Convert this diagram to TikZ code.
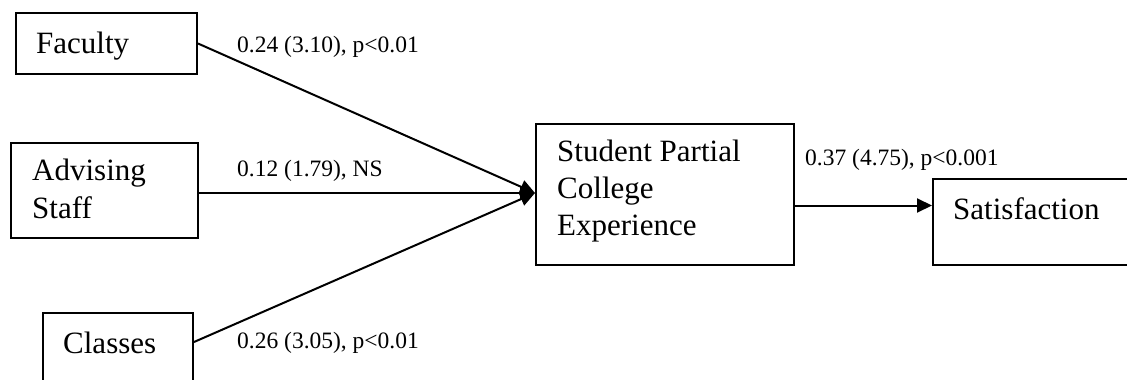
\documentclass[tikz,border=0pt]{standalone}
\usepackage{fontspec}
\setmainfont{Liberation Serif}
\usetikzlibrary{arrows.meta,calc}
\begin{document}
\begin{tikzpicture}[x=1pt,y=-1pt,
  box/.style={draw,line width=2pt,rectangle,inner sep=0pt,anchor=north west},
  boxtext/.style={anchor=base west,inner sep=0pt,font=\fontsize{31}{37}\selectfont,align=left},
  lbl/.style={anchor=base west,inner sep=0pt,font=\fontsize{23.5}{28}\selectfont},
  conn/.style={line width=2pt,-{Triangle[length=15pt,width=14pt]}}]
\useasboundingbox (0,0) rectangle (1127,380);
% boxes
\node[box,minimum width=181pt,minimum height=61pt] (fac) at (15,12) {};
\node[box,minimum width=187pt,minimum height=95pt] (adv) at (10,142) {};
\node[box,minimum width=150pt,minimum height=90pt] (cls) at (42,312) {};
\node[box,minimum width=258pt,minimum height=141pt] (cen) at (535,123) {};
\node[box,minimum width=220pt,minimum height=86pt] (sat) at (932,178) {};
% box texts (base = last line)
\node[boxtext] (tfac) at (36,53) {Faculty};
\node[boxtext,font=\fontsize{31}{38}\selectfont] (tadv) at (32,218) {Advising\\Staff};
\node[boxtext] (tcls) at (63,353) {Classes};
\node[boxtext] (tcen) at (557,235) {Student Partial\\College\\Experience};
\node[boxtext] (tsat) at (953,219) {Satisfaction};
% connectors
\coordinate (tip) at ([yshift=1.5pt]cen.west);
\draw[conn] (fac.east) -- (tip);
\draw[conn] (adv.east |- tip) -- (tip);
\draw[conn] ([yshift=-30pt]cls.north east) -- (tip);
\coordinate (out) at ([yshift=-11pt]cen.east);
\draw[conn] (out) -- (out -| sat.west);
% labels
\node[lbl] (l1) at (237,52) {0.24 (3.10), p<0.01};
\node[lbl] (l2) at (237,176) {0.12 (1.79), NS};
\node[lbl] (l3) at (237,348) {0.26 (3.05), p<0.01};
\node[lbl] (l4) at (805,165) {0.37 (4.75), p<0.001};
\end{tikzpicture}
\end{document}
